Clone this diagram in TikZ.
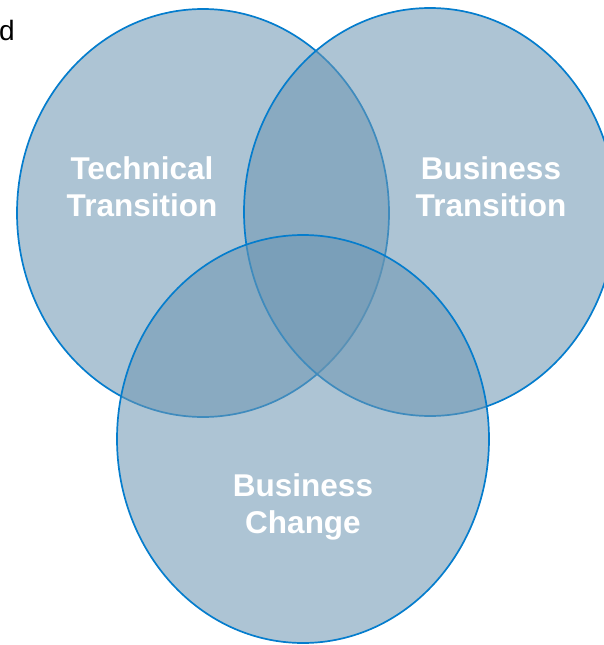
\documentclass[tikz,border=0pt]{standalone}
\usepackage{fontspec}
\setmainfont{Liberation Sans}
\usetikzlibrary{shapes.geometric}
\definecolor{vennfill}{RGB}{109,150,178}
\definecolor{vennline}{RGB}{5,125,205}
\tikzset{
  venn/.style={ellipse, draw=vennline, line width=1.7pt, fill=vennfill, fill opacity=0.56,
    minimum width=372pt, minimum height=408pt, inner sep=0pt},
  label/.style={text=white, font=\fontsize{31.5}{37}\selectfont\bfseries, align=center}
}
\begin{document}
\begin{tikzpicture}[x=1pt,y=-1pt]
\useasboundingbox (0,0) rectangle (604,645);
\clip (0,0) rectangle (604,645);
\node[venn] (tech) at (203,213) {};
\node[venn] (bus) at (430,212) {};
\node[venn] (chg) at (303,439) {};
\node[label] (techt) at (142,187) {Technical\\Transition};
\node[label] (bust) at (491,187) {Business\\Transition};
\node[label] (chgt) at (303,507) {Business\\Change};
\node[anchor=base west, inner sep=0pt, font=\fontsize{28}{32}\selectfont] (d) at (-1,40) {d};
\end{tikzpicture}
\end{document}
